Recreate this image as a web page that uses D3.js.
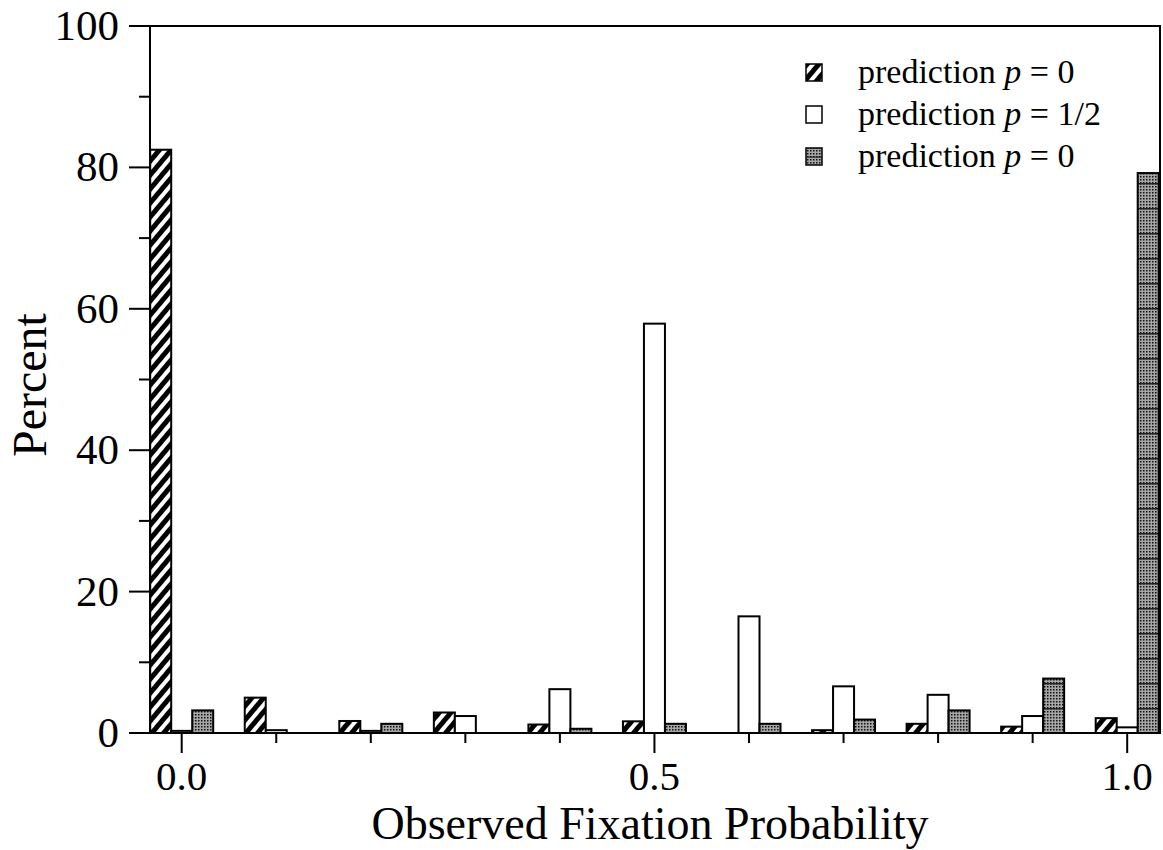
<!DOCTYPE html>
<html>
<head>
<meta charset="utf-8">
<script src="https://cdn.jsdelivr.net/npm/d3@7"></script>
<style>
  html, body { margin: 0; padding: 0; background: #fff; }
  svg { display: block; font-family: "Liberation Serif", "Times New Roman", serif; }
</style>
</head>
<body>
<svg id="chart" width="1163" height="850"></svg>
<script>
// observed fixation probability bins
const categories = [0.0, 0.1, 0.2, 0.3, 0.4, 0.5, 0.6, 0.7, 0.8, 0.9, 1.0];
const seriesNames = ['prediction p = 0', 'prediction p = 1/2', 'prediction p = 0'];
const hatchedValues = [82.5, 5.0, 1.7, 2.9, 1.2, 1.65, 0, 0.4, 1.3, 0.9, 2.1];
const whiteValues   = [0.3, 0.4, 0.3, 2.4, 6.2, 57.9, 16.5, 6.6, 5.4, 2.4, 0.8];
const dottedValues  = [3.2, 0, 1.3, 0, 0.6, 1.3, 1.3, 1.9, 3.2, 7.7, 79.2];
const yTicks = [0, 20, 40, 60, 80, 100];
const yMinorTicks = [10, 30, 50, 70, 90];
const xTicks = [0, 0.5, 1.0];
const xMinorTicks = [0.1, 0.2, 0.3, 0.4, 0.6, 0.7, 0.8, 0.9];

const svg = d3.select('#chart');
const plotLeft = 150, plotRight = 1160, plotTop = 26, plotBottom = 733;

const y = d3.scaleLinear().domain([0, 100]).range([plotBottom, plotTop]);
const x = d3.scaleLinear().domain([0, 1]).range([181.7, 1127.2]);
const barW = 21;

// patterns
const defs = svg.append('defs');
const hatch = defs.append('pattern')
  .attr('id', 'hatch')
  .attr('patternUnits', 'userSpaceOnUse')
  .attr('width', 9).attr('height', 9)
  .attr('patternTransform', 'rotate(40)');
hatch.append('rect').attr('width', 9).attr('height', 9).attr('fill', '#fff');
hatch.append('rect').attr('width', 5).attr('height', 9).attr('fill', '#000');

const dots = defs.append('pattern')
  .attr('id', 'dots')
  .attr('patternUnits', 'userSpaceOnUse')
  .attr('width', 3).attr('height', 3);
dots.append('rect').attr('width', 3).attr('height', 3).attr('fill', '#a6a6a6');
dots.append('rect').attr('width', 1.5).attr('height', 1.5).attr('fill', '#111');

// dotted fill plus the faint band lines seen in the tall bars
const dotted = defs.append('pattern')
  .attr('id', 'dotted')
  .attr('patternUnits', 'userSpaceOnUse')
  .attr('width', 30).attr('height', 25)
  .attr('y', plotBottom);
dotted.append('rect').attr('width', 30).attr('height', 25).attr('fill', 'url(#dots)');
dotted.append('rect').attr('y', 0).attr('width', 30).attr('height', 1.5).attr('fill', '#222');

const fills = ['url(#hatch)', '#fff', 'url(#dotted)'];
const series = [hatchedValues, whiteValues, dottedValues];

// bars
series.forEach((vals, s) => {
  svg.append('g').selectAll('rect')
    .data(categories.map((c, i) => ({ c, v: vals[i] })))
    .enter()
    .append('rect')
    .attr('x', d => x(d.c) + (s - 1.5) * barW)
    .attr('y', d => y(d.v))
    .attr('width', barW)
    .attr('height', d => plotBottom - y(d.v))
    .attr('fill', fills[s])
    .attr('stroke', '#000')
    .attr('stroke-width', 2);
});

// frame
svg.append('rect')
  .attr('x', plotLeft).attr('y', plotTop)
  .attr('width', plotRight - plotLeft).attr('height', plotBottom - plotTop)
  .attr('fill', 'none').attr('stroke', '#000').attr('stroke-width', 2);

// y axis
const yAxis = svg.append('g');
yAxis.selectAll('.maj').data(yTicks).enter().append('line')
  .attr('x1', 129).attr('x2', plotLeft)
  .attr('y1', d => y(d)).attr('y2', d => y(d))
  .attr('stroke', '#000').attr('stroke-width', 2);
yAxis.selectAll('.min').data(yMinorTicks).enter().append('line')
  .attr('x1', 139).attr('x2', plotLeft)
  .attr('y1', d => y(d)).attr('y2', d => y(d))
  .attr('stroke', '#000').attr('stroke-width', 2);
yAxis.selectAll('text').data(yTicks).enter().append('text')
  .attr('x', 119)
  .attr('y', d => y(d) + 14)
  .attr('text-anchor', 'end')
  .style('font-size', '43px')
  .text(d => d);

// x axis
const xAxis = svg.append('g');
xAxis.selectAll('.maj').data(xTicks).enter().append('line')
  .attr('x1', d => x(d)).attr('x2', d => x(d))
  .attr('y1', plotBottom).attr('y2', 753)
  .attr('stroke', '#000').attr('stroke-width', 2);
xAxis.selectAll('.min').data(xMinorTicks).enter().append('line')
  .attr('x1', d => x(d)).attr('x2', d => x(d))
  .attr('y1', plotBottom).attr('y2', 743)
  .attr('stroke', '#000').attr('stroke-width', 2);
xAxis.selectAll('text').data(xTicks).enter().append('text')
  .attr('x', d => x(d))
  .attr('y', 790)
  .attr('text-anchor', 'middle')
  .style('font-size', '41px')
  .text(d => d3.format('.1f')(d));

// axis titles
svg.append('text')
  .attr('x', 650).attr('y', 839)
  .attr('text-anchor', 'middle')
  .style('font-size', '46px')
  .text('Observed Fixation Probability');

svg.append('text')
  .attr('transform', 'translate(46,385) rotate(-90)')
  .attr('text-anchor', 'middle')
  .style('font-size', '48px')
  .text('Percent');

// legend
const legend = svg.append('g');
seriesNames.forEach((name, i) => {
  const ly = 72 + i * 42;
  legend.append('rect')
    .attr('x', 806).attr('y', ly - 8)
    .attr('width', 16).attr('height', 17)
    .attr('fill', fills[i] === 'url(#dotted)' ? 'url(#dots)' : fills[i])
    .attr('stroke', '#000').attr('stroke-width', 1.5);
  if (i === 2) {
    legend.append('line')
      .attr('x1', 806).attr('x2', 822)
      .attr('y1', ly + 1).attr('y2', ly + 1)
      .attr('stroke', '#222').attr('stroke-width', 1.2);
  }
  const t = legend.append('text')
    .attr('x', 858).attr('y', ly + 11)
    .style('font-size', '34px');
  t.append('tspan').text('prediction ');
  t.append('tspan').style('font-style', 'italic').text('p');
  t.append('tspan').text(name.replace('prediction p', ''));
});
</script>
</body>
</html>
